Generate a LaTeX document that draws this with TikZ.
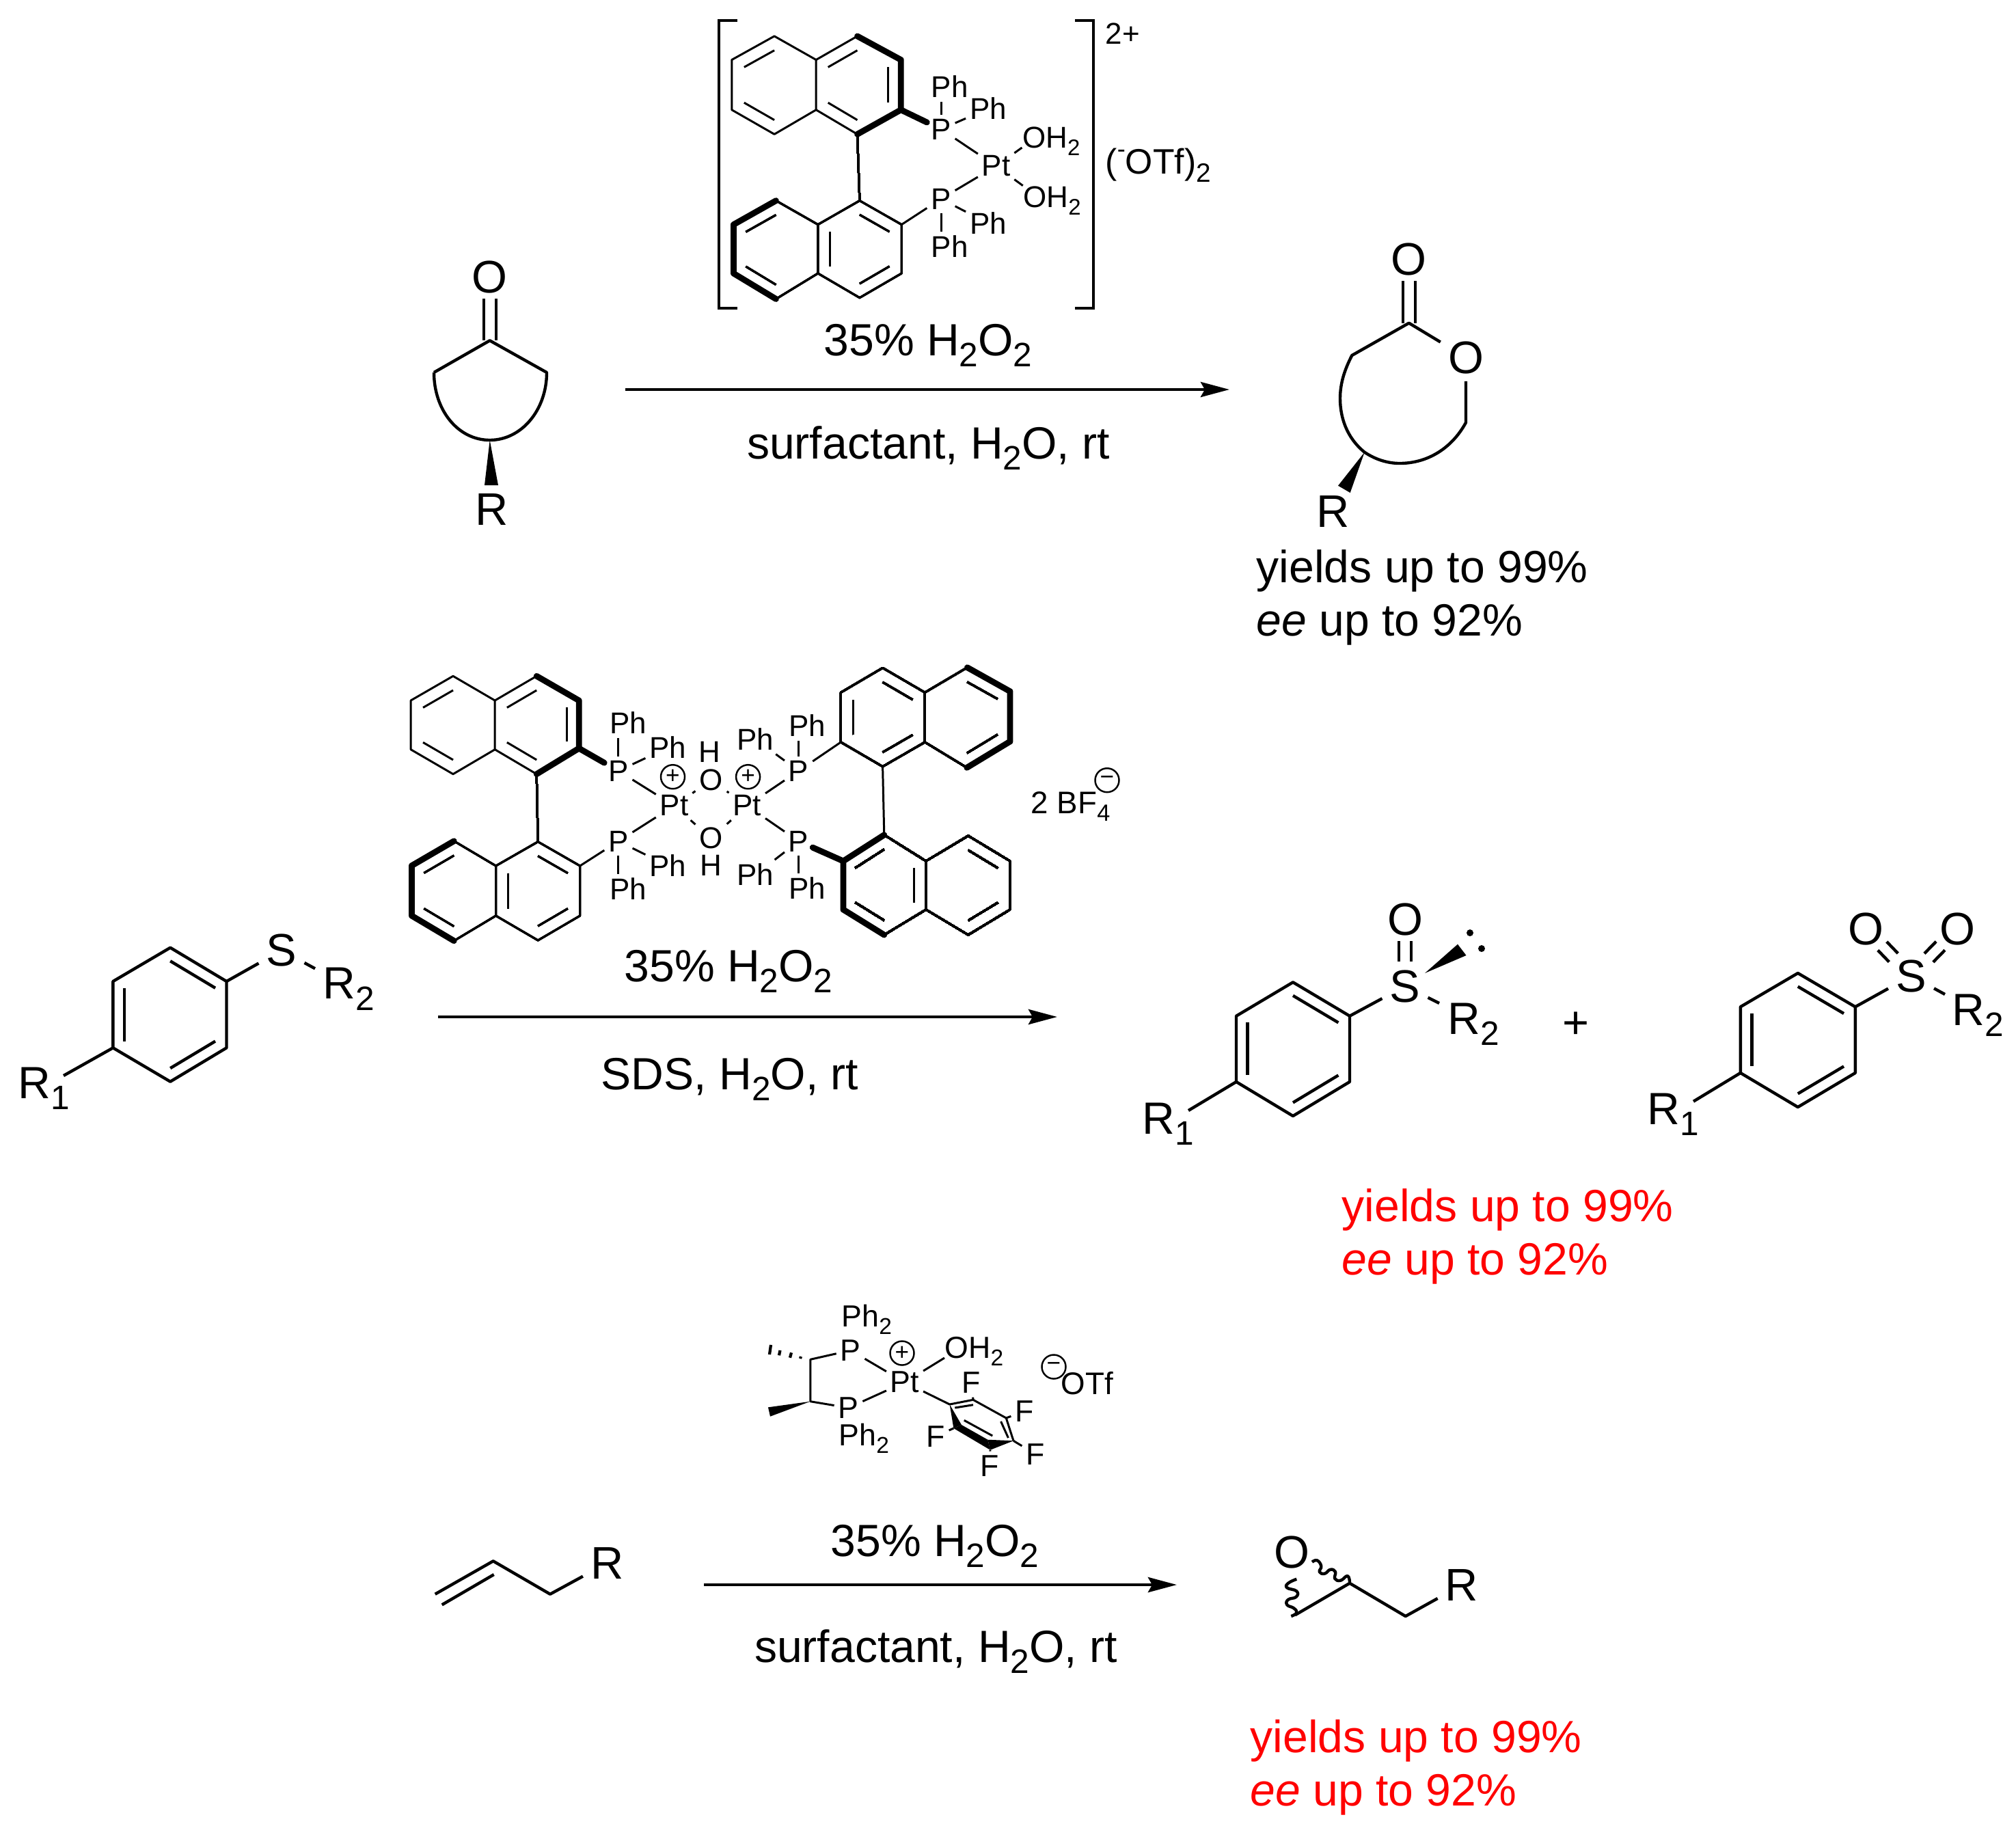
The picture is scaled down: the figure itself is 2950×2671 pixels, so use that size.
\documentclass[tikz,border=0pt]{standalone}
\usepackage{fontspec}
\setmainfont{Liberation Sans}
\usetikzlibrary{arrows.meta,calc}

\tikzset{
  bond/.style={line width=1.25pt,line join=round},
  thinbond/.style={line width=0.85pt,line join=round},
  boldbond/.style={line width=2.5pt,line cap=round,line join=round},
  wedgefill/.style={fill=black,draw=none},
  reactarrow/.style={line width=1.3pt,-{Stealth[length=0.42cm,width=0.22cm,inset=0.06cm]}},
  biglab/.style={font=\fontsize{18.8}{22}\selectfont,inner sep=0pt},
  batom/.style={font=\fontsize{19}{22}\selectfont,inner sep=3pt},
  atom/.style={font=\fontsize{12.5}{14}\selectfont,inner sep=1.5pt},
  catom/.style={font=\fontsize{12.7}{14}\selectfont,inner sep=1.5pt},
  midlab/.style={font=\fontsize{13}{16}\selectfont,inner sep=0pt},
  charge/.style={circle,draw,line width=0.7pt,minimum size=0.35cm,inner sep=0pt,font=\fontsize{10}{10}\selectfont},
  redlab/.style={biglab,text=red,anchor=base west},
}

\newcommand{\chsub}[1]{\raisebox{-.25em}{\scalebox{.75}{#1}}}

\newcommand{\inbond}[3]{\draw[thinbond] ($(#1)!.29!(#3)$) -- ($(#2)!.29!(#3)$);}

\newcommand{\dblbond}[4]{%
  \draw[bond,shorten <=#3,shorten >=#4] ($(#1)!.09cm!90:(#2)$) -- ($(#2)!.09cm!-90:(#1)$);
  \draw[bond,shorten <=#3,shorten >=#4] ($(#1)!.09cm!-90:(#2)$) -- ($(#2)!.09cm!90:(#1)$);}

\newcommand{\naphthyl}[2]{%
  \foreach \n/\x/\y in {#2} \coordinate (#1\n) at (\x,\y);
  \coordinate (#1L) at ($(#1l1)!.5!(#1l2)$);
  \coordinate (#1R) at ($(#1r1)!.5!(#1r4)$);
  \draw[thinbond] (#1l1) -- (#1f1) -- (#1f2) -- (#1l2) -- (#1l3) -- (#1l4) -- cycle;
  \draw[thinbond] (#1f1) -- (#1r1) -- (#1r2) -- (#1r3) -- (#1r4) -- (#1f2);}

\newcommand{\benzene}[2]{%
  \foreach \n/\x/\y in {#2} \coordinate (#1\n) at (\x,\y);
  \coordinate (#1c) at ($(#1t)!.5!(#1b)$);
  \draw[bond] (#1t) -- (#1ur) -- (#1lr) -- (#1b) -- (#1ll) -- (#1ul) -- cycle;
  \foreach \a/\e in {t/ur,ul/ll,lr/b}
    \draw[bond] ($(#1\a)!.2!(#1c)$) -- ($(#1\e)!.2!(#1c)$);}

\begin{document}
\begin{tikzpicture}[x=0.01cm,y=-0.01cm]
\useasboundingbox (0,0) rectangle (2950,2671);

% Drawing ketone
\coordinate (ka) at (716.7,498.3);
\coordinate (kb) at (635,545);
\coordinate (kc) at (800,545);
\coordinate (kd) at (716.7,644);
\node[batom] (kO) at (716.7,405) {O};
\node[batom] (kR) at (720,745.6) {R};
\draw[bond] (kb) -- (ka) -- (kc) .. controls (800,600) and (763,644) .. (kd) .. controls (670,644) and (635,600) .. (kb);
\dblbond{ka}{kO}{0cm}{.32cm}
\fill[wedgefill] (kd) -- (709,710) -- (729,710) -- cycle;

% Drawing first catalyst
\naphthyl{ta}{l1/1133.1/52.9,f1/1194.2/87.5,f2/1194.2/160.7,l2/1133.1/196.4,l3/1070.8/160.7,l4/1070.8/87.5,r1/1254.5/52.9,r2/1318.3/87.5,r3/1318.3/160.7,r4/1254.5/196.4}
\foreach \a/\e/\c in {tal4/tal1/taL,tal2/tal3/taL,taf1/tar1/taR,tar2/tar3/taR,tar4/taf2/taR} \inbond{\a}{\e}{\c}
\naphthyl{tb}{l1/1135.5/293.6,f1/1196.9/328.6,f2/1196.9/400,l2/1135.5/437.5,l3/1073.4/400,l4/1073.4/328.6,r1/1257.9/293.6,r2/1319.3/328.6,r3/1319.3/400,r4/1257.9/435.7}
\foreach \a/\e/\c in {tbl4/tbl1/tbL,tbl2/tbl3/tbL,tbf1/tbf2/tbR,tbr1/tbr2/tbR,tbr3/tbr4/tbR} \inbond{\a}{\e}{\c}
\draw[thinbond] (tar4) -- (tbr1);
\draw[boldbond] (tar1) -- (tar2) -- (tar3) -- (tar4);
\draw[boldbond] (tbl1) -- (tbl4) -- (tbl3) -- (tbl2);
\node[atom] (tPa) at (1377,189) {P};
\node[atom] (tPb) at (1377,291) {P};
\node[atom] (tPt) at (1457.6,243) {Pt};
\node[atom] (tPha) at (1389.7,126.8) {Ph};
\node[atom] (tPhb) at (1446,159) {Ph};
\node[atom] (tPhc) at (1446,326.8) {Ph};
\node[atom] (tPhd) at (1389.7,360.7) {Ph};
\node[atom,anchor=base west,inner sep=0pt] (tOa) at (1495.4,216) {OH\chsub{2}};
\node[atom,anchor=base west,inner sep=0pt] (tOb) at (1496.7,303) {OH\chsub{2}};
\draw[boldbond] (tar3) -- (tPa);
\draw[thinbond] (tbr2) -- (tPb);
\draw[thinbond] (tPa) -- (tPt);
\draw[thinbond] (tPb) -- (tPt);
\draw[thinbond] (tPa) -- (tPa |- tPha.south);
\draw[thinbond] (tPb) -- (tPb |- tPhd.north);
\draw[thinbond] (tPa) -- (tPhb);
\draw[thinbond] (tPb) -- (tPhc);
\draw[thinbond] (tPt) -- (tOa.base west);
\draw[thinbond] (tPt) -- (tOb.north west);
% Drawing brackets
\coordinate (bla) at (1079,30);
\coordinate (blb) at (1052,30);
\coordinate (blc) at (1052,451);
\coordinate (bld) at (1079,451);
\coordinate (bra) at (1573,30);
\coordinate (brb) at (1600,30);
\coordinate (brc) at (1600,451);
\coordinate (brd) at (1573,451);
\draw[bond,line width=1.1pt,line join=miter] (bla) -- (blb) -- (blc) -- (bld);
\draw[bond,line width=1.1pt,line join=miter] (bra) -- (brb) -- (brc) -- (brd);
\node[midlab,font=\fontsize{12.5}{14}\selectfont,anchor=base west] (tcharge) at (1617,64) {2+};
\node[midlab,font=\fontsize{14.7}{16}\selectfont,anchor=base west] (totf) at (1617,254) {(\raisebox{.45em}{\scalebox{.7}{-}}OTf)\chsub{2}};

% Drawing first arrow
\node[biglab,anchor=base] (treag) at (1358,520) {35\% H\chsub{2}O\chsub{2}};
\coordinate (ara) at (915,570);
\coordinate (arb) at (1799,570);
\draw[reactarrow] (ara) -- (arb);
\node[biglab,anchor=base] (tcond) at (1358.6,671) {surfactant, H\chsub{2}O, rt};

% Drawing lactone
\coordinate (la) at (2061.7,472.7);
\coordinate (lb) at (1978.3,520);
\coordinate (lc) at (2145,618.3);
\coordinate (ld) at (1996.7,661.7);
\node[batom] (lO) at (2061.7,379.3) {O};
\node[batom] (lOr) at (2145,523) {O};
\node[batom] (lR) at (1950.7,748) {R};
\draw[bond] (lOr) -- (la) -- (lb) .. controls (1968,540) and (1961,560) .. (1961,583) .. controls (1961,610) and (1970,640) .. (ld) .. controls (2012,672) and (2030,678) .. (2048,678) .. controls (2090,678) and (2125,655) .. (lc) -- (lOr);
\dblbond{la}{lO}{0cm}{.32cm}
\fill[wedgefill] (ld) -- (1958,710.7) -- (1975.7,721) -- cycle;
\node[biglab,anchor=base west] (tya) at (1838,852) {yields up to 99\%};
\node[biglab,anchor=base west] (tyb) at (1838,930) {\textit{ee} up to 92\%};

% Drawing thioether
\benzene{sa}{t/249.2/1386.7,ur/331.5/1436,lr/331.5/1533.3,b/249.2/1582.7,ll/165.4/1533.3,ul/165.4/1436}
\node[batom] (saS) at (412,1390.7) {S};
\node[biglab,anchor=base west] (saRb) at (472,1461.7) {R\chsub{2}};
\node[biglab,anchor=base west] (saRa) at (26,1607.3) {R\chsub{1}};
\coordinate (saRe) at (461,1417.3);
\coordinate (saQe) at (93,1574);
\draw[bond] (saur) -- (saS);
\draw[bond] (saS) -- (saRe);
\draw[bond] (sall) -- (saQe);

% Drawing second catalyst
\naphthyl{ma}{l1/663/989.3,f1/724.2/1025,f2/724.2/1096.7,l2/663/1132.7,l3/601.1/1096.7,l4/601.1/1025,r1/785.2/989.3,r2/847.2/1025,r3/847.2/1095,r4/785.2/1132.7}
\foreach \a/\e/\c in {mal4/mal1/maL,mal2/mal3/maL,maf1/mar1/maR,mar2/mar3/maR,mar4/maf2/maR} \inbond{\a}{\e}{\c}
\naphthyl{mb}{l1/664.3/1230.7,f1/725.6/1267,f2/725.6/1340,l2/664.3/1376.7,l3/602.5/1340,l4/602.5/1266.7,r1/787.2/1231.7,r2/848.7/1267,r3/848.7/1340,r4/787.2/1376}
\foreach \a/\e/\c in {mbl4/mbl1/mbL,mbl2/mbl3/mbL,mbf1/mbf2/mbR,mbr1/mbr2/mbR,mbr3/mbr4/mbR} \inbond{\a}{\e}{\c}
\naphthyl{mc}{l1/1291.6/977.3,f1/1353.4/1013.3,f2/1353.4/1086,l2/1291.6/1121.7,l3/1230.4/1086,l4/1230.4/1013.3,r1/1415.4/976.7,r2/1478/1011.7,r3/1478/1085,r4/1414.8/1123.3}
\foreach \a/\e/\c in {mcl1/mcf1/mcL,mcl3/mcl4/mcL,mcl2/mcf2/mcL,mcr1/mcr2/mcR,mcr3/mcr4/mcR} \inbond{\a}{\e}{\c}
\naphthyl{md}{l1/1293.8/1221.7,f1/1355/1260,f2/1355/1331,l2/1293.8/1368,l3/1234/1331,l4/1234/1260,r1/1416.8/1223,r2/1478/1260,r3/1478/1331,r4/1416.8/1368}
\foreach \a/\e/\c in {mdl1/mdl4/mdL,mdf1/mdf2/mdL,mdl2/mdl3/mdL,mdr1/mdr2/mdR,mdr3/mdr4/mdR} \inbond{\a}{\e}{\c}
\draw[thinbond] (mar4) -- (mbr1);
\draw[thinbond] (mcl2) -- (mdl1);
\draw[boldbond] (mar1) -- (mar2) -- (mar3) -- (mar4);
\draw[boldbond] (mbl1) -- (mbl4) -- (mbl3) -- (mbl2);
\draw[boldbond] (mcr1) -- (mcr2) -- (mcr3) -- (mcr4);
\draw[boldbond] (mdl1) -- (mdl4) -- (mdl3) -- (mdl2);
\node[atom] (mPa) at (904.9,1128) {P};
\node[atom] (mPb) at (904.9,1231) {P};
\node[atom] (mPc) at (1168.6,1128) {P};
\node[atom] (mPd) at (1168.6,1231) {P};
\node[atom] (mPta) at (986.5,1179) {Pt};
\node[atom] (mPtb) at (1093.3,1179) {Pt};
\node[atom] (mOa) at (1040.6,1141.7) {O};
\node[atom] (mOb) at (1040.6,1226.7) {O};
\node[atom] (mHa) at (1038.5,1100) {H};
\node[atom] (mHb) at (1040.6,1266.7) {H};
\node[atom] (mPha) at (919.1,1058) {Ph};
\node[atom] (mPhb) at (977.3,1094) {Ph};
\node[atom] (mPhc) at (977.3,1266.7) {Ph};
\node[atom] (mPhd) at (919.1,1301) {Ph};
\node[atom] (mPhe) at (1181.2,1061.7) {Ph};
\node[atom] (mPhf) at (1105.3,1081.7) {Ph};
\node[atom] (mPhg) at (1105.3,1280) {Ph};
\node[atom] (mPhh) at (1181.2,1300) {Ph};
\node[charge] (mCa) at (984.5,1136.7) {+};
\node[charge] (mCb) at (1094.6,1136.7) {+};
\draw[boldbond] (mar3) -- (mPa);
\draw[thinbond] (mbr2) -- (mPb);
\draw[thinbond] (mcl3) -- (mPc);
\draw[boldbond] (mdl4) -- (mPd);
\foreach \a/\e in {mPa/mPta,mPb/mPta,mPc/mPtb,mPd/mPtb,mPta/mOa,mPta/mOb,mPtb/mOa,mPtb/mOb,mPa/mPhb,mPb/mPhc,mPc/mPhf,mPd/mPhg}
  \draw[thinbond] (\a) -- (\e);
\draw[thinbond] (mPa) -- (mPa |- mPha.south);
\draw[thinbond] (mPb) -- (mPb |- mPhd.north);
\draw[thinbond] (mPc) -- (mPc |- mPhe.south);
\draw[thinbond] (mPd) -- (mPd |- mPhh.north);
\node[midlab,anchor=base west] (mbf) at (1508,1190) {2 BF\chsub{4}};
\node[charge] (mCc) at (1620,1141.7) {−};

% Drawing second arrow
\node[biglab,anchor=base] (mreag) at (1066,1436) {35\% H\chsub{2}O\chsub{2}};
\coordinate (ama) at (641,1488);
\coordinate (amb) at (1547,1488);
\draw[reactarrow] (ama) -- (amb);
\node[biglab,anchor=base] (mcond) at (1068,1594) {SDS, H\chsub{2}O, rt};

% Drawing sulfoxide
\benzene{sb}{t/1892/1437.3,ur/1975/1486.7,lr/1975/1583,b/1892/1633,ll/1809/1583,ul/1809/1486.7}
\node[batom] (sbS) at (2056,1443) {S};
\node[batom] (sbO) at (2056,1345) {O};
\node[biglab,anchor=base west] (sbRb) at (2118,1513) {R\chsub{2}};
\node[biglab,anchor=base west] (sbRa) at (1671,1659) {R\chsub{1}};
\coordinate (sbRe) at (2106,1468);
\coordinate (sbQe) at (1739,1625);
\coordinate (sbWa) at (2085,1424);
\coordinate (sbWb) at (2133,1381.7);
\coordinate (sbWc) at (2145.5,1398);
\draw[bond] (sbur) -- (sbS);
\draw[bond] (sbS) -- (sbRe);
\draw[bond] (sbll) -- (sbQe);
\dblbond{sbS}{sbO}{.36cm}{.32cm}
\fill[wedgefill] (sbWa) -- (sbWb) -- (sbWc) -- cycle;
\fill (2151,1365) circle (5);
\fill (2168,1388) circle (5);
\node[batom] (plus) at (2306,1500) {+};

% Drawing sulfone
\benzene{sc}{t/2630.8/1424,ur/2714.8/1473.3,lr/2714.8/1570,b/2630.8/1620,ll/2546.8/1570,ul/2546.8/1473.3}
\node[batom] (scS) at (2796.5,1428) {S};
\node[batom] (scOa) at (2730,1359) {O};
\node[batom] (scOb) at (2864,1359) {O};
\node[biglab,anchor=base west] (scRb) at (2856,1500) {R\chsub{2}};
\node[biglab,anchor=base west] (scRa) at (2410,1645) {R\chsub{1}};
\coordinate (scRe) at (2846,1455);
\coordinate (scQe) at (2478,1611.7);
\draw[bond] (scur) -- (scS);
\draw[bond] (scS) -- (scRe);
\draw[bond] (scll) -- (scQe);
\dblbond{scS}{scOa}{.37cm}{.35cm}
\dblbond{scS}{scOb}{.37cm}{.35cm}
\node[redlab] (mya) at (1963,1787) {yields up to 99\%};
\node[redlab] (myb) at (1963,1865) {\textit{ee} up to 92\%};

% Drawing third catalyst
\coordinate (ca) at (1185.8,1989.3);
\coordinate (cb) at (1185.8,2050.7);
\node[catom] (cPa) at (1244.6,1976) {P};
\node[catom] (cPb) at (1241.5,2060) {P};
\node[catom] (cPt) at (1324,2022.7) {Pt};
\node[charge] (cCa) at (1320,1980) {+};
\node[catom,anchor=base west,inner sep=0pt] (cPha) at (1231,1941.7) {Ph\chsub{2}};
\node[catom,anchor=base west,inner sep=0pt] (cPhb) at (1227,2115) {Ph\chsub{2}};
\node[catom,anchor=base west,inner sep=0pt] (cO) at (1382,1987) {OH\chsub{2}};
\draw[thinbond] (cPa) -- (ca) -- (cb) -- (cPb);
\draw[thinbond] (cPa) -- (cPt);
\draw[thinbond] (cPb) -- (cPt);
\draw[thinbond] (cPt) -- (cO.base west);
\foreach \xa/\ya/\xb/\yb in {1128/1968/1126/1982,1141.5/1976/1140/1983.3,1158/1979.3/1156/1986.7,1172/1985/1171/1988}
  \draw[thinbond,line width=1.2pt] (\xa,\ya) -- (\xb,\yb);
\fill[wedgefill] (cb) -- (1124,2059.3) -- (1127,2072.7) -- cycle;
\coordinate (fa) at (1389.6,2055);
\coordinate (fb) at (1424,2048.3);
\coordinate (fc) at (1472.3,2075);
\coordinate (fd) at (1483,2108.3);
\coordinate (fe) at (1449,2121.7);
\coordinate (ff) at (1395.4,2090);
\coordinate (fg) at (1407,2085);
\coordinate (fh) at (1445.4,2106.7);
\node[catom] (cFa) at (1421.5,2023.3) {F};
\node[catom] (cFb) at (1499,2065) {F};
\node[catom] (cFc) at (1515,2127.7) {F};
\node[catom] (cFd) at (1448.5,2145) {F};
\node[catom] (cFe) at (1369,2101.7) {F};
\draw[thinbond] (cPt) -- (fa) -- (fb) -- (fc) -- (fd);
\fill[wedgefill] (fa) -- (ff) -- (fg) -- cycle;
\fill[wedgefill] (ff) -- (fg) -- (fh) -- (fe) -- cycle;
\fill[wedgefill] (fd) -- (fe) -- (fh) -- cycle;
\draw[thinbond] (1397.3,2060) -- (1424,2055.7);
\draw[thinbond] (1410.8,2078.3) -- (1452.3,2101);
\draw[thinbond] (1464.6,2080) -- (1475.4,2104);
\foreach \a/\e in {fb/cFa,fc/cFb,fd/cFc,fe/cFd,ff/cFe}
  \draw[thinbond] (\a) -- (\e);
\node[charge] (cCb) at (1542,2000) {−};
\node[midlab,anchor=base west] (cotf) at (1552,2040) {OTf};

% Drawing alkene
\coordinate (ea) at (636.7,2332.7);
\coordinate (eb) at (721.7,2284.3);
\coordinate (ec) at (805,2332.7);
\coordinate (ed) at (646.7,2348.3);
\coordinate (ee) at (722.7,2304);
\node[batom] (eR) at (888.3,2287.3) {R};
\draw[bond] (ea) -- (eb) -- (ec) -- (eR);
\draw[bond] (ed) -- (ee);

% Drawing third arrow
\node[biglab,anchor=base] (breag) at (1368,2277) {35\% H\chsub{2}O\chsub{2}};
\coordinate (aba) at (1030,2319);
\coordinate (abb) at (1722,2319);
\draw[reactarrow] (aba) -- (abb);
\node[biglab,anchor=base] (bcond) at (1369.5,2432) {surfactant, H\chsub{2}O, rt};

% Drawing epoxide
\coordinate (oa) at (1975,2316.7);
\coordinate (ob) at (2056.7,2365);
\coordinate (oc) at (1895,2363.3);
\node[batom] (oO) at (1890,2271.7) {O};
\node[batom] (oR) at (2139,2319.3) {R};
\draw[bond] (oc) -- (oa) -- (ob) -- (oR);
\draw[bond] plot[smooth,tension=.8] coordinates {(1920,2285.7) (1927.3,2283.3) (1933.3,2291.7) (1930.7,2300) (1938.3,2302.7) (1946.7,2296.7) (1954,2300) (1953.3,2310) (1961.7,2312.7) (1971.7,2306) (1975,2315)};
\draw[bond] plot[smooth,tension=.8] coordinates {(1889.3,2365) (1897.3,2360) (1893.3,2353.3) (1883.3,2348.3) (1885,2340.7) (1896.7,2336.7) (1897.3,2328.3) (1883.3,2323.3) (1885,2316.7) (1897.3,2310.7)};
\node[redlab] (bya) at (1829,2564) {yields up to 99\%};
\node[redlab] (byb) at (1829,2642) {\textit{ee} up to 92\%};
\end{tikzpicture}
\end{document}
